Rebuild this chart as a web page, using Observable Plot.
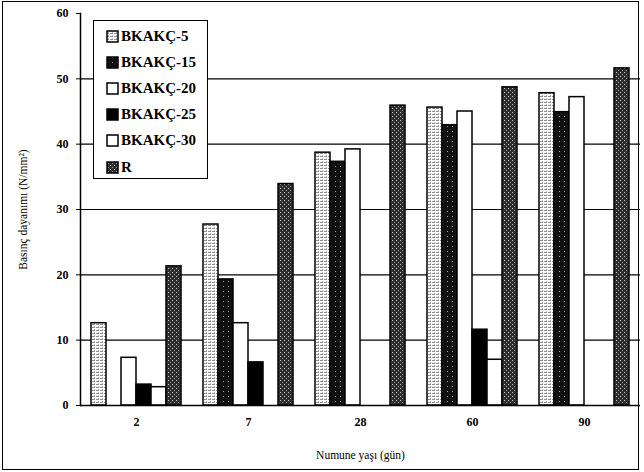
<!DOCTYPE html>
<html>
<head>
<meta charset="utf-8">
<script src="https://cdn.jsdelivr.net/npm/d3@7"></script>
<script src="https://cdn.jsdelivr.net/npm/@observablehq/plot@0.6"></script>
<style>
  html, body { margin: 0; padding: 0; background: #fff; }
  #wrap { position: relative; width: 644px; height: 472px; overflow: hidden; font-family: "Liberation Serif", "Times New Roman", serif; }
  #border { position: absolute; left: 2px; top: 1px; width: 635px; height: 467px; border: 1.5px solid #000; pointer-events: none; }
  #legend { position: absolute; left: 93px; top: 20px; width: 113px; height: 157px; border: 1.5px solid #000; background: #fff; }
  .item { position: absolute; left: 12px; height: 20px; display: flex; align-items: center; font-size: 15px; font-weight: bold; color: #000; }
  .item svg { margin-right: 2px; }
</style>
</head>
<body>
<svg width="0" height="0" style="position:absolute">
  <defs>
    <pattern id="p5" width="4" height="3" patternUnits="userSpaceOnUse">
      <rect width="4" height="3" fill="#ffffff"/>
      <rect x="0" y="0" width="3" height="1" fill="#8c8c8c"/>
      <rect x="2" y="2" width="1" height="1" fill="#b0b0b0"/>
    </pattern>
    <pattern id="p15" width="5" height="5" patternUnits="userSpaceOnUse">
      <rect width="5" height="5" fill="#111111"/>
      <rect x="1" y="1" width="1" height="1" fill="#9a9a9a"/>
    </pattern>
    <pattern id="pR" width="4" height="4" patternUnits="userSpaceOnUse">
      <rect width="4" height="4" fill="#2e2e2e"/>
      <rect x="0" y="0" width="1" height="1" fill="#d0d0d0"/>
      <rect x="2" y="2" width="1" height="1" fill="#9a9a9a"/>
    </pattern>
  </defs>
</svg>
<div id="wrap">
  <div id="chart"></div>
  <div id="legend"></div>
  <div id="border"></div>
</div>
<script>
const ages = ["2", "7", "28", "60", "90"];
const series = ["BKAKÇ-5", "BKAKÇ-15", "BKAKÇ-20", "BKAKÇ-25", "BKAKÇ-30", "R"];
const bkakc5  = [12.6, 27.7, 38.7, 45.6, 47.8];
const bkakc15 = [0, 19.3, 37.3, 42.9, 44.9];
const bkakc20 = [7.3, 12.6, 39.2, 45.0, 47.2];
const bkakc25 = [3.2, 6.6, 0, 11.6, 0];
const bkakc30 = [2.8, 0, 0, 7.0, 0];
const rValues = [21.3, 33.9, 45.9, 48.7, 51.6];
const yTicks = [0, 10, 20, 30, 40, 50, 60];
const gridValues = [10, 20, 30, 40, 50];
const fills = ["url(#p5)", "url(#p15)", "#ffffff", "#000000", "#ffffff", "url(#pR)"];

const valuesBySeries = [bkakc5, bkakc15, bkakc20, bkakc25, bkakc30, rValues];
const data = [];
series.forEach((s, i) => ages.forEach((a, j) => data.push({series: s, age: a, value: valuesBySeries[i][j]})));

const chart = Plot.plot({
  width: 644,
  height: 472,
  marginLeft: 80,
  marginRight: 4,
  marginTop: 13,
  marginBottom: 67,
  style: {fontFamily: "'Liberation Serif', 'Times New Roman', serif", background: "#fff", color: "#000"},
  fx: {domain: ages, padding: 0},
  x: {domain: series, paddingInner: 0, paddingOuter: 0.65, axis: null},
  y: {domain: [0, 60]},
  color: {type: "ordinal", domain: series, range: fills},
  marks: [
    Plot.ruleY(gridValues, {stroke: "#000", strokeWidth: 1.2}),
    Plot.barY(data, {fx: "age", x: "series", y: "value", fill: "series", stroke: "#000", strokeWidth: 1.5, filter: d => d.value > 0}),
    Plot.ruleY([0], {stroke: "#000", strokeWidth: 1.5}),
    Plot.frame({anchor: "left", facetAnchor: "left", stroke: "#000", strokeWidth: 1.5}),
    Plot.axisY({ticks: yTicks, tickSize: 4, tickPadding: 8, fontSize: 12, fontWeight: "bold", label: null}),
    Plot.axisY({ticks: [], label: "Basınç dayanımı (N/mm²)", labelArrow: "none", labelAnchor: "center", labelOffset: 62, fontSize: 11.5}),
    Plot.axisFx({anchor: "bottom", tickSize: 0, tickPadding: 12, fontSize: 12, fontWeight: "bold", label: null}),
    Plot.axisFx({anchor: "bottom", ticks: [], label: "Numune yaşı (gün)", labelArrow: "none", labelAnchor: "center", labelOffset: 53, fontSize: 11.5})
  ]
});
document.getElementById("chart").appendChild(chart);

const legend = document.getElementById("legend");
series.forEach((s, i) => {
  const item = document.createElement("div");
  item.className = "item";
  item.style.top = (5 + i * 26.2) + "px";
  item.innerHTML = `<svg width="13" height="13"><rect x="1" y="1" width="11" height="11" fill="${fills[i]}" stroke="#000" stroke-width="1.5"/></svg><span>${s}</span>`;
  legend.appendChild(item);
});
</script>
</body>
</html>
